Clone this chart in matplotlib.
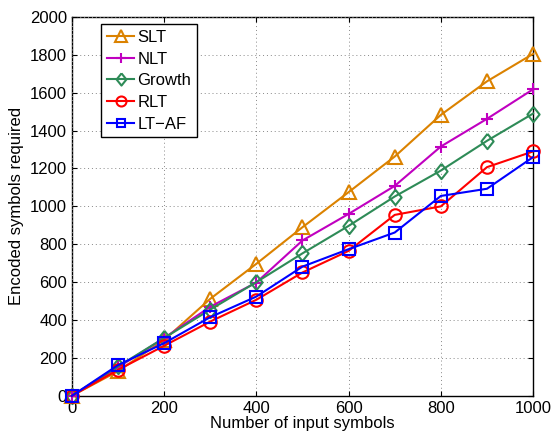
import matplotlib
matplotlib.use("Agg")
import matplotlib.pyplot as plt

plt.rcParams['font.family'] = ['Liberation Sans', 'DejaVu Sans']

# Number of input symbols
x = [0, 100, 200, 300, 400, 500, 600, 700, 800, 900, 1000]

# Encoded symbols required for each scheme
slt = [0, 130, 295, 512, 697, 890, 1075, 1263, 1483, 1660, 1805]
nlt = [0, 150, 305, 470, 598, 820, 960, 1108, 1316, 1462, 1618]
growth = [0, 155, 305, 455, 600, 752, 897, 1052, 1189, 1346, 1490]
rlt = [0, 137, 264, 392, 507, 651, 765, 955, 1000, 1207, 1290]
ltaf = [0, 162, 278, 415, 524, 682, 774, 862, 1055, 1093, 1260]

# MATLAB-like diamond, taller than wide
diamond = [(0, 1), (0.8, 0), (0, -1), (-0.8, 0), (0, 1)]

fig = plt.figure(figsize=(5.53, 4.34), dpi=100)
ax = fig.add_axes([0.130, 0.088, 0.834, 0.873])

ax.plot(x, slt, color='#DB8200', marker='^', markersize=10, mfc='none',
        mew=1.5, lw=1.5, label='SLT', clip_on=False)
ax.plot(x, nlt, color='#C000C0', marker='+', markersize=9,
        mew=1.5, lw=1.5, label='NLT', clip_on=False)
ax.plot(x, growth, color='#2E8B57', marker=diamond, markersize=11, mfc='none',
        mew=1.5, lw=1.5, label='Growth', clip_on=False)
ax.plot(x, rlt, color='#FF0000', marker='o', markersize=9, mfc='none',
        mew=1.5, lw=1.5, label='RLT', clip_on=False)
ax.plot(x, ltaf, color='#0000FF', marker='s', markersize=8, mfc='none',
        mew=1.5, lw=1.5, label='LT\u2212AF', clip_on=False)

ax.set_xlim(0, 1000)
ax.set_ylim(0, 2000)
ax.set_xticks(range(0, 1001, 200))
ax.set_yticks(range(0, 2001, 200))
ax.tick_params(direction='in', top=True, right=True, labelsize=12)
ax.grid(True, linestyle=(0, (1, 3)), color='#888888', linewidth=0.7)
for s in ax.spines.values():
    s.set_linewidth(1.0)
    s.set_zorder(1)

ax.set_xlabel('Number of input symbols', fontsize=12, labelpad=0)
ax.set_ylabel('Encoded symbols required', fontsize=12)

leg = ax.legend(loc='upper left', bbox_to_anchor=(0.064, 0.981), fontsize=12,
                fancybox=False, framealpha=1, edgecolor='black',
                handlelength=1.6, handletextpad=0.2, labelspacing=0.4,
                borderpad=0.35, borderaxespad=0, markerscale=0.8)
leg.get_frame().set_linewidth(1.0)

plt.savefig('out.png', dpi=100)
